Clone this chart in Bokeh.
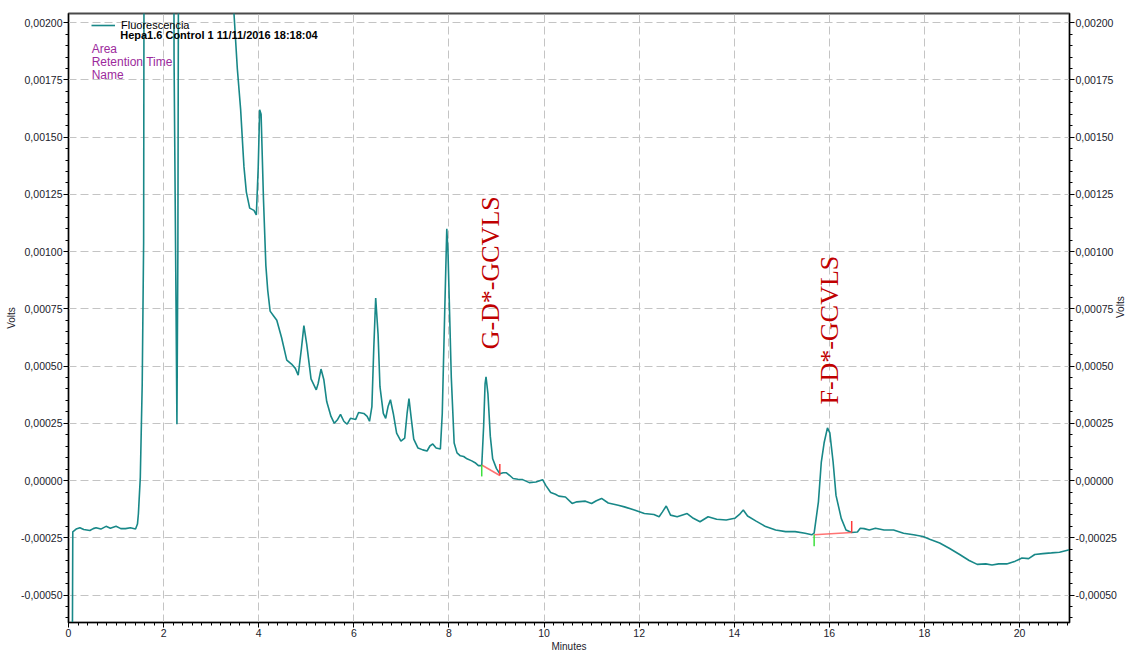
import math
from bokeh.plotting import figure
from bokeh.models import (LinearAxis, SingleIntervalTicker, CustomJSTickFormatter,
                          Label, Legend, LegendItem, Range1d, ColumnDataSource)
from bokeh.embed import file_html
from bokeh.resources import INLINE

# ---- data (minutes, volts) ----
time_min = [0.07, 0.08, 0.09, 0.16, 0.24, 0.32, 0.45, 0.52, 0.58, 0.68, 0.79, 0.88,
            1.00, 1.10, 1.20, 1.30, 1.41, 1.45, 1.47, 1.51, 1.55, 1.58, 1.60,
            2.20, 2.22, 2.26, 2.28, 2.30, 2.33, 3.46, 3.48, 3.55, 3.62, 3.67, 3.69,
            3.74, 3.81, 3.90, 3.95, 3.99, 4.02, 4.05, 4.10, 4.15, 4.19, 4.24, 4.31,
            4.38, 4.48, 4.59, 4.69, 4.77, 4.83, 4.90, 4.95, 5.01, 5.10, 5.21, 5.25,
            5.31, 5.37, 5.43, 5.52, 5.59, 5.66, 5.72, 5.79, 5.86, 5.93, 6.04, 6.10,
            6.21, 6.28, 6.33, 6.38, 6.42, 6.46, 6.51, 6.55, 6.62, 6.67, 6.72, 6.77,
            6.83, 6.90, 6.99, 7.07, 7.12, 7.16, 7.21, 7.26, 7.35, 7.45, 7.54, 7.60,
            7.66, 7.73, 7.82, 7.86, 7.91, 7.955, 7.98, 8.05, 8.11, 8.17, 8.24, 8.31,
            8.38, 8.48, 8.55, 8.62, 8.69, 8.73, 8.76, 8.78, 8.82, 8.87, 8.92, 9.00,
            9.07, 9.14, 9.21, 9.28, 9.35, 9.45, 9.55, 9.69, 9.83, 9.97, 10.04, 10.14,
            10.24, 10.31, 10.45, 10.59, 10.69, 10.87, 11.00, 11.10, 11.21, 11.35,
            11.56, 11.69, 11.90, 12.11, 12.31, 12.42, 12.49, 12.57, 12.66, 12.80,
            13.01, 13.14, 13.28, 13.45, 13.63, 13.83, 14.01, 14.11, 14.19, 14.28,
            14.46, 14.66, 14.87, 15.08, 15.28, 15.49, 15.63, 15.68, 15.77, 15.83,
            15.89, 15.96, 16.01, 16.08, 16.14, 16.25, 16.35, 16.47, 16.59, 16.65,
            16.73, 16.84, 16.97, 17.15, 17.35, 17.56, 17.77, 17.97, 18.11, 18.32,
            18.53, 18.74, 18.94, 19.11, 19.29, 19.42, 19.56, 19.73, 19.91, 20.05,
            20.19, 20.32, 20.49, 20.67, 20.84, 21.05]

volts = [-0.000800, -0.000800, -0.000224, -0.000212, -0.000206, -0.000214, -0.000218,
         -0.000210, -0.000206, -0.000212, -0.000200, -0.000208, -0.000200, -0.000210,
         -0.000210, -0.000206, -0.000212, -0.000190, -0.000145, 0.000014, 0.000420,
         0.001040, 0.004000, 0.004000, 0.001840, 0.000800, 0.000246, 0.001000,
         0.004000, 0.004000, 0.002040, 0.001800, 0.001620, 0.001440, 0.001370,
         0.001260, 0.001190, 0.001180, 0.001160, 0.001370, 0.001620, 0.001600,
         0.001230, 0.000940, 0.000830, 0.000740, 0.000720, 0.000700, 0.000625,
         0.000526, 0.000509, 0.000490, 0.000460, 0.000580, 0.000677, 0.000595,
         0.000444, 0.000396, 0.000424, 0.000487, 0.000440, 0.000345, 0.000280,
         0.000250, 0.000267, 0.000289, 0.000259, 0.000246, 0.000272, 0.000267,
         0.000297, 0.000293, 0.000280, 0.000259, 0.000323, 0.000580, 0.000797,
         0.000638, 0.000410, 0.000293, 0.000272, 0.000323, 0.000353, 0.000293,
         0.000207, 0.000172, 0.000185, 0.000293, 0.000358, 0.000267, 0.000181,
         0.000142, 0.000134, 0.000129, 0.000151, 0.000160, 0.000142, 0.000138,
         0.000293, 0.000724, 0.001100, 0.001000, 0.000450, 0.000164, 0.000121,
         0.000108, 0.000105, 0.000095, 0.000086, 0.000078, 0.000065, 0.000065,
         0.000237, 0.000422, 0.000453, 0.000380, 0.000194, 0.000095, 0.000052,
         0.000030, 0.000034, 0.000034, 0.000022, 0.000009, 0.000006, 0.000004,
         -0.000009, -0.000006, 0.000004, -0.000022, -0.000052, -0.000060, -0.000068,
         -0.000072, -0.000100, -0.000093, -0.000090, -0.000100, -0.000088, -0.000078,
         -0.000098, -0.000108, -0.000115, -0.000129, -0.000144, -0.000148, -0.000158,
         -0.000137, -0.000111, -0.000151, -0.000158, -0.000144, -0.000165, -0.000180,
         -0.000158, -0.000169, -0.000172, -0.000165, -0.000148, -0.000129, -0.000155,
         -0.000177, -0.000201, -0.000216, -0.000223, -0.000223, -0.000230, -0.000237,
         -0.000230, -0.000093, 0.000079, 0.000165, 0.000230, 0.000208, 0.000079,
         -0.000065, -0.000165, -0.000216, -0.000227, -0.000225, -0.000208, -0.000210,
         -0.000216, -0.000208, -0.000216, -0.000216, -0.000230, -0.000237, -0.000244,
         -0.000256, -0.000273, -0.000297, -0.000323, -0.000349, -0.000366, -0.000364,
         -0.000369, -0.000364, -0.000364, -0.000352, -0.000338, -0.000341, -0.000323,
         -0.000319, -0.000316, -0.000313, -0.000302]

# integrated peaks
peak_names = ["G-D*-GCVLS", "F-D*-GCVLS"]
peak_label_time = [8.87, 16.01]
peak_label_volts = [0.000573, 0.000332]
peak_start_time = [8.69, 15.68]
peak_start_volts = [0.000068, -0.000237]
peak_end_time = [9.07, 16.47]
peak_end_volts = [0.000022, -0.000227]
tick_len = 0.00005

legend_series = "Fluorescencia"
legend_run = "Hepa1.6 Control 1 11/11/2016 18:18:04"
legend_fields = ["Area", "Retention Time", "Name"]

TEAL = "#188888"
TXT = "#1c1c2c"

p = figure(width=1134, height=654, output_backend="svg", toolbar_location=None,
           x_range=Range1d(0, 21.05), y_range=Range1d(-0.00062, 0.00204),
           min_border_left=68, min_border_right=49, min_border_top=13,
           min_border_bottom=20, background_fill_color="white",
           border_fill_color="white")

src = ColumnDataSource(dict(t=time_min, v=volts))
r = p.line("t", "v", source=src, line_color=TEAL, line_width=1.6)

# integration baselines
p.segment(x0=peak_start_time, y0=peak_start_volts, x1=peak_end_time, y1=peak_end_volts,
          line_color="#ff5a5a", line_width=1.5, line_alpha=0.85)
p.segment(x0=peak_start_time, y0=peak_start_volts, x1=peak_start_time,
          y1=[v - tick_len for v in peak_start_volts], line_color="#3ee03e", line_width=1.5)
p.segment(x0=peak_end_time, y0=peak_end_volts, x1=peak_end_time,
          y1=[v + tick_len for v in peak_end_volts], line_color="#ff3a3a", line_width=1.5)

for name, tx, vy in zip(peak_names, peak_label_time, peak_label_volts):
    p.add_layout(Label(x=tx, y=vy, text=name, angle=math.pi / 2, angle_units="rad",
                       text_align="left", text_baseline="middle",
                       text_font="Liberation Serif", text_font_size="26px",
                       text_color="#c00000"))

fmt = CustomJSTickFormatter(code="""
    var t = Math.abs(tick) < 1e-12 ? 0 : tick;
    return t.toFixed(5).replace('.', ',');
""")

def style_axis(ax, label):
    ax.axis_line_color = "black"
    ax.axis_line_width = 1
    ax.major_tick_line_color = "black"
    ax.minor_tick_line_color = "black"
    ax.major_tick_out = 5
    ax.major_tick_in = 0
    ax.minor_tick_out = 3
    ax.minor_tick_in = 0
    ax.major_label_text_font = "Liberation Sans"
    ax.major_label_text_font_size = "10.5px"
    ax.major_label_text_color = TXT
    ax.major_label_standoff = 1
    ax.axis_label = label
    ax.axis_label_text_font = "Liberation Sans"
    ax.axis_label_text_font_size = "10px"
    ax.axis_label_text_font_style = "normal"
    ax.axis_label_text_color = TXT
    ax.axis_label_standoff = 1

yt = SingleIntervalTicker(interval=0.00025, num_minor_ticks=5)
xt = SingleIntervalTicker(interval=2, num_minor_ticks=10)

p.yaxis.ticker = yt
p.yaxis.formatter = fmt
p.xaxis.ticker = xt
style_axis(p.yaxis[0], "Volts")
style_axis(p.xaxis[0], "Minutes")

ry = LinearAxis(ticker=SingleIntervalTicker(interval=0.00025, num_minor_ticks=5),
                formatter=fmt)
style_axis(ry, "Volts")
try:
    ry.axis_label_orientation = math.pi / 2
except Exception:
    pass
p.add_layout(ry, "right")

p.xgrid.ticker = xt
p.ygrid.ticker = yt
for g in (p.xgrid[0], p.ygrid[0]):
    g.grid_line_color = "#c4c4c4"
    g.grid_line_dash = "8 4"
    g.grid_line_width = 1

p.outline_line_color = "#4a4a4a"
p.outline_line_width = 2

# legend
legend = Legend(items=[LegendItem(label=legend_series, renderers=[r])],
                location=(23, 591), glyph_width=24, glyph_height=12, label_height=12,
                label_standoff=6, padding=0, margin=0, spacing=0,
                background_fill_alpha=0, border_line_alpha=0,
                label_text_font="Liberation Sans", label_text_font_size="11px",
                label_text_color="black")
p.add_layout(legend)

p.add_layout(Label(x=1.087, y=0.001944, text=legend_run, text_align="left",
                   text_baseline="middle", text_font="Liberation Sans",
                   text_font_size="11px", text_color="black", text_font_style="bold"))
for i, f in enumerate(legend_fields):
    p.add_layout(Label(x=0.487, y=0.001884 - i * 0.000056, text=f, text_align="left",
                       text_baseline="middle", text_font="Liberation Sans",
                       text_font_size="12px", text_color="#9c2a9c"))

open("out.html", "w").write(file_html(p, INLINE))
